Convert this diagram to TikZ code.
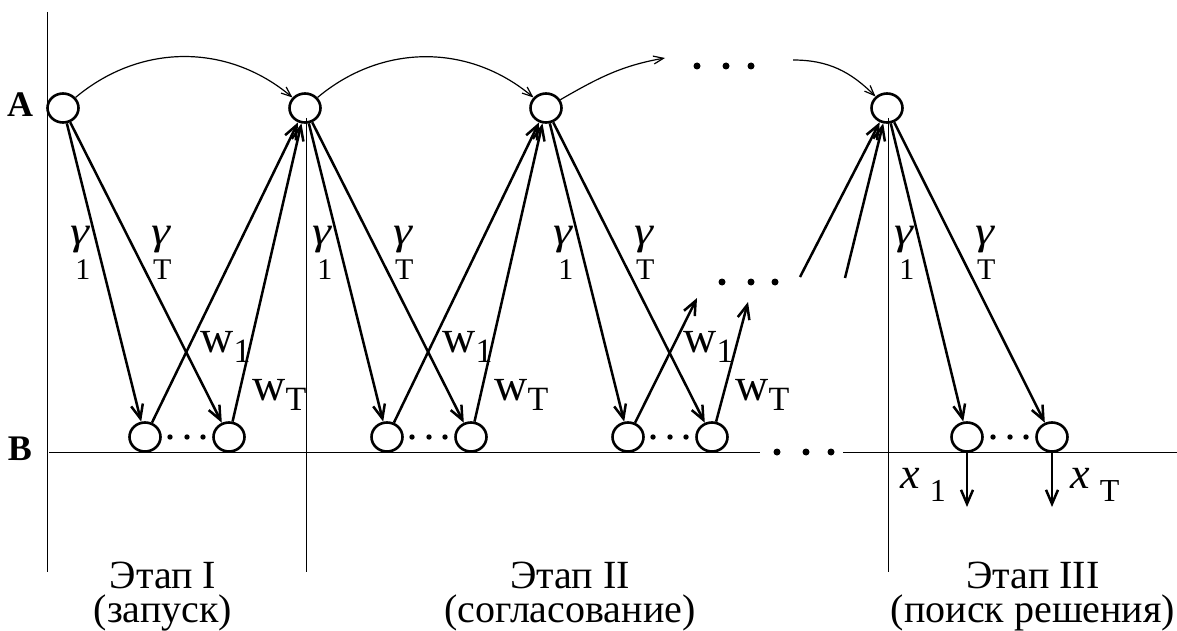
\documentclass[tikz,border=0pt]{standalone}
\usepackage{fontspec}
\usepackage{graphicx}
\setmainfont{Liberation Serif}
\usetikzlibrary{arrows.meta,shapes.geometric}

\tikzset{
	st/.style={ellipse, draw, line width=1.3pt, minimum width=15.5pt, minimum height=14.5pt, inner sep=0pt},
	arr/.style={-{Straight Barb[length=7pt,width=6pt]}, line width=1.25pt},
	bow/.style={-{Straight Barb[length=5pt,width=4pt]}, line width=0.6pt},
	axis/.style={line width=0.5pt},
	side/.style={font=\fontsize{18}{18}\selectfont\bfseries},
	gam/.style={anchor=base west, inner sep=0pt, font=\fontsize{20}{20}\selectfont},
	wlab/.style={anchor=base west, inner sep=0pt, font=\fontsize{23}{23}\selectfont},
	xlab/.style={anchor=base west, inner sep=0pt, font=\fontsize{22}{22}\selectfont},
	stage/.style={anchor=base, inner sep=0pt, align=center, font=\fontsize{20}{17}\selectfont},
}
\newcommand{\gsub}[1]{\scalebox{1.2}[1]{\textit{γ}}\llap{\raisebox{-17.5pt}{\fontsize{15}{15}\selectfont #1}}}
\newcommand{\wsub}[1]{w\raisebox{-5pt}{\fontsize{17}{17}\selectfont #1}}
\newcommand{\xsub}[1]{\textit{x}\hspace{5pt}\raisebox{-6.5pt}{\fontsize{16}{16}\selectfont #1}}

\begin{document}
\begin{tikzpicture}[x=0.5pt, y=-0.5pt]
	\useasboundingbox (0,0) rectangle (1177,631);

	\node[side] at (20,105) (la) {A};
	\node[side] at (20,449) (lb) {B};

	\draw[axis] (47,12) -- (47,572);
	\draw[axis] (306,118) -- (306,572);
	\draw[axis] (888,118) -- (888,572);
	\draw[axis] (49,452) -- (760,452);
	\draw[axis] (843,452) -- (1177,452);

	\node[st] at (63,108) (a1) {};
	\node[st] at (305,108) (a2) {};
	\node[st] at (546,108) (a3) {};
	\node[st] at (887,108) (a4) {};

	\node[st] at (145,437) (b11) {};
	\node[st] at (229,437) (b1t) {};
	\node[st] at (387,437) (b21) {};
	\node[st] at (471,437) (b2t) {};
	\node[st] at (628,437) (b31) {};
	\node[st] at (712,437) (b3t) {};
	\node[st] at (967,437) (b41) {};
	\node[st] at (1052,437) (b4t) {};

	\coordinate (c1) at (665,58);
	\coordinate (c2) at (793,60);
	\coordinate (e31) at (697,298);
	\coordinate (e3t) at (748,302);
	\coordinate (s41) at (800,277);
	\coordinate (s4t) at (845,278);
	\coordinate (x1) at (967,507);
	\coordinate (xt) at (1052,507);

	\draw[bow] (a1) to[bend left=40] (a2);
	\draw[bow] (a2) to[bend left=40] (a3);
	\draw[bow] (a3) to[out=30, in=190] (c1);
	\draw[bow] (c2) to[out=0, in=135] (a4);

	\draw[arr] (a1) -- (b11);
	\draw[arr] (a1) -- (b1t);
	\draw[arr] (b11) -- (a2);
	\draw[arr] (b1t) -- (a2);
	\draw[arr] (a2) -- (b21);
	\draw[arr] (a2) -- (b2t);
	\draw[arr] (b21) -- (a3);
	\draw[arr] (b2t) -- (a3);
	\draw[arr] (a3) -- (b31);
	\draw[arr] (a3) -- (b3t);
	\draw[arr] (b31) -- (e31);
	\draw[arr] (b3t) -- (e3t);
	\draw[arr] (s41) -- (a4);
	\draw[arr] (s4t) -- (a4);
	\draw[arr] (a4) -- (b41);
	\draw[arr] (a4) -- (b4t);
	\draw[arr] (b41) -- (x1);
	\draw[arr] (b4t) -- (xt);

	\fill (697,66) circle (1.75pt) (726,66) circle (1.75pt) (751,66) circle (1.75pt);
	\fill (722,282) circle (1.75pt) (751,282) circle (1.75pt) (775,282) circle (1.75pt);
	\fill (777,452) circle (1.75pt) (806,452) circle (1.75pt) (831,452) circle (1.75pt);
	\fill (170,437) circle (1.35pt) (187,437) circle (1.35pt) (203,437) circle (1.35pt);
	\fill (412,437) circle (1.35pt) (429,437) circle (1.35pt) (445,437) circle (1.35pt);
	\fill (653,437) circle (1.35pt) (670,437) circle (1.35pt) (686,437) circle (1.35pt);
	\fill (993,437) circle (1.35pt) (1010,437) circle (1.35pt) (1026,437) circle (1.35pt);

	\node[gam] at (70,244) (g11) {\gsub{1}};
	\node[gam] at (151,244) (g1t) {\gsub{T}};
	\node[gam] at (312,244) (g21) {\gsub{1}};
	\node[gam] at (393,244) (g2t) {\gsub{T}};
	\node[gam] at (553,244) (g31) {\gsub{1}};
	\node[gam] at (634,244) (g3t) {\gsub{T}};
	\node[gam] at (894,244) (g41) {\gsub{1}};
	\node[gam] at (975,244) (g4t) {\gsub{T}};

	\node[wlab] at (200,352) (w11) {\wsub{1}};
	\node[wlab] at (252,400) (w1t) {\wsub{T}};
	\node[wlab] at (442,352) (w21) {\wsub{1}};
	\node[wlab] at (494,400) (w2t) {\wsub{T}};
	\node[wlab] at (683,352) (w31) {\wsub{1}};
	\node[wlab] at (735,400) (w3t) {\wsub{T}};

	\node[xlab] at (900,488) (lx1) {\xsub{1}};
	\node[xlab] at (1070,488) (lxt) {\xsub{T}};

	\node[stage] at (163,622) (e1) {Этап I\\(запуск)};
	\node[stage] at (570,622) (e2) {Этап II\\(согласование)};
	\node[stage] at (1033,622) (e3) {Этап III\\(поиск решения)};
\end{tikzpicture}
\end{document}
